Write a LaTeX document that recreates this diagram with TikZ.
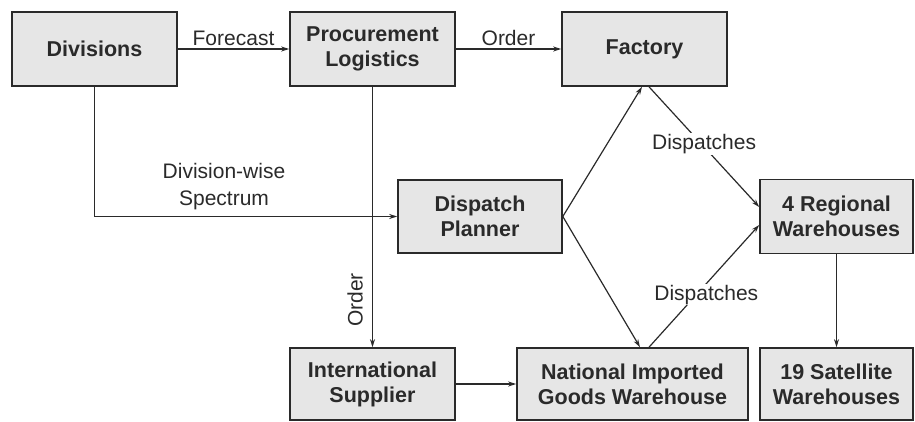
\documentclass[tikz,border=0pt]{standalone}
\usepackage{fontspec}
\setmainfont{Liberation Sans}
\usetikzlibrary{arrows.meta,calc}
\definecolor{boxfill}{HTML}{E6E6E6}
\definecolor{ink}{HTML}{2A2A2A}
\tikzset{
  box/.style={draw=ink, line width=1.6pt, fill=boxfill, inner sep=0pt,
    align=center, font=\fontsize{21.5}{25}\selectfont\bfseries, text=ink},
  arr/.style={draw=ink, line width=1.2pt, -{Stealth[length=8pt,width=5pt]}},
  lbl/.style={font=\fontsize{21}{27}\selectfont, text=ink, inner sep=1pt, align=center}
}
\begin{document}
\begin{tikzpicture}[x=1pt,y=-1pt]
\useasboundingbox (0,0) rectangle (915,422);
\node[box, minimum width=165pt, minimum height=74pt] (div) at (94.5,49) {Divisions};
\node[box, minimum width=165pt, minimum height=74pt] (proc) at (372.5,49) {Procurement\\Logistics};
\node[box, minimum width=165pt, minimum height=74pt] (fac) at (644.5,49) {Factory};
\node[box, minimum width=164pt, minimum height=73pt] (disp) at (480,216.5) {Dispatch\\Planner};
\node[box, minimum width=153pt, minimum height=74pt] (reg) at (836.5,216.5) {4 Regional\\Warehouses};
\node[box, minimum width=165pt, minimum height=72pt] (intl) at (372.5,384) {International\\Supplier};
\node[box, minimum width=231pt, minimum height=72pt] (nat) at (632.5,384) {National Imported\\Goods Warehouse};
\node[box, minimum width=153pt, minimum height=72pt] (sat) at (836.5,384) {19 Satellite\\Warehouses};

\draw[arr] (div) -- node[lbl, above=2pt] (lf) {Forecast} (proc);
\draw[arr] (proc) -- node[lbl, above=2pt] (lo) {Order} (fac);
\draw[arr] (div.south) |- coordinate (dcorner) (disp.west);
\node[lbl] (ldw) at (224,187) {Division-wise\\Spectrum};
\draw[arr] (proc.south) -- (intl.north);
\node[lbl, rotate=90] (lo2) at (355,300) {Order};
\draw[arr] (intl) -- (nat);
\draw[arr] (disp.east) -- ($(fac.south)+(-2.5,0)$);
\draw[arr] (disp.east) -- ($(nat.north)+(7.5,0)$);
\draw[arr] ($(fac.south)+(4.5,0)$) -- node[lbl, fill=white, pos=0.5, yshift=3pt] (ld1) {Dispatches} ($(reg.west)+(0,-9.5)$);
\draw[arr] ($(nat.north)+(16.5,0)$) -- node[lbl, fill=white, pos=0.52, yshift=-11pt] (ld2) {Dispatches} ($(reg.west)+(0,8.5)$);
\draw[arr] (reg) -- (sat);
\end{tikzpicture}
\end{document}
